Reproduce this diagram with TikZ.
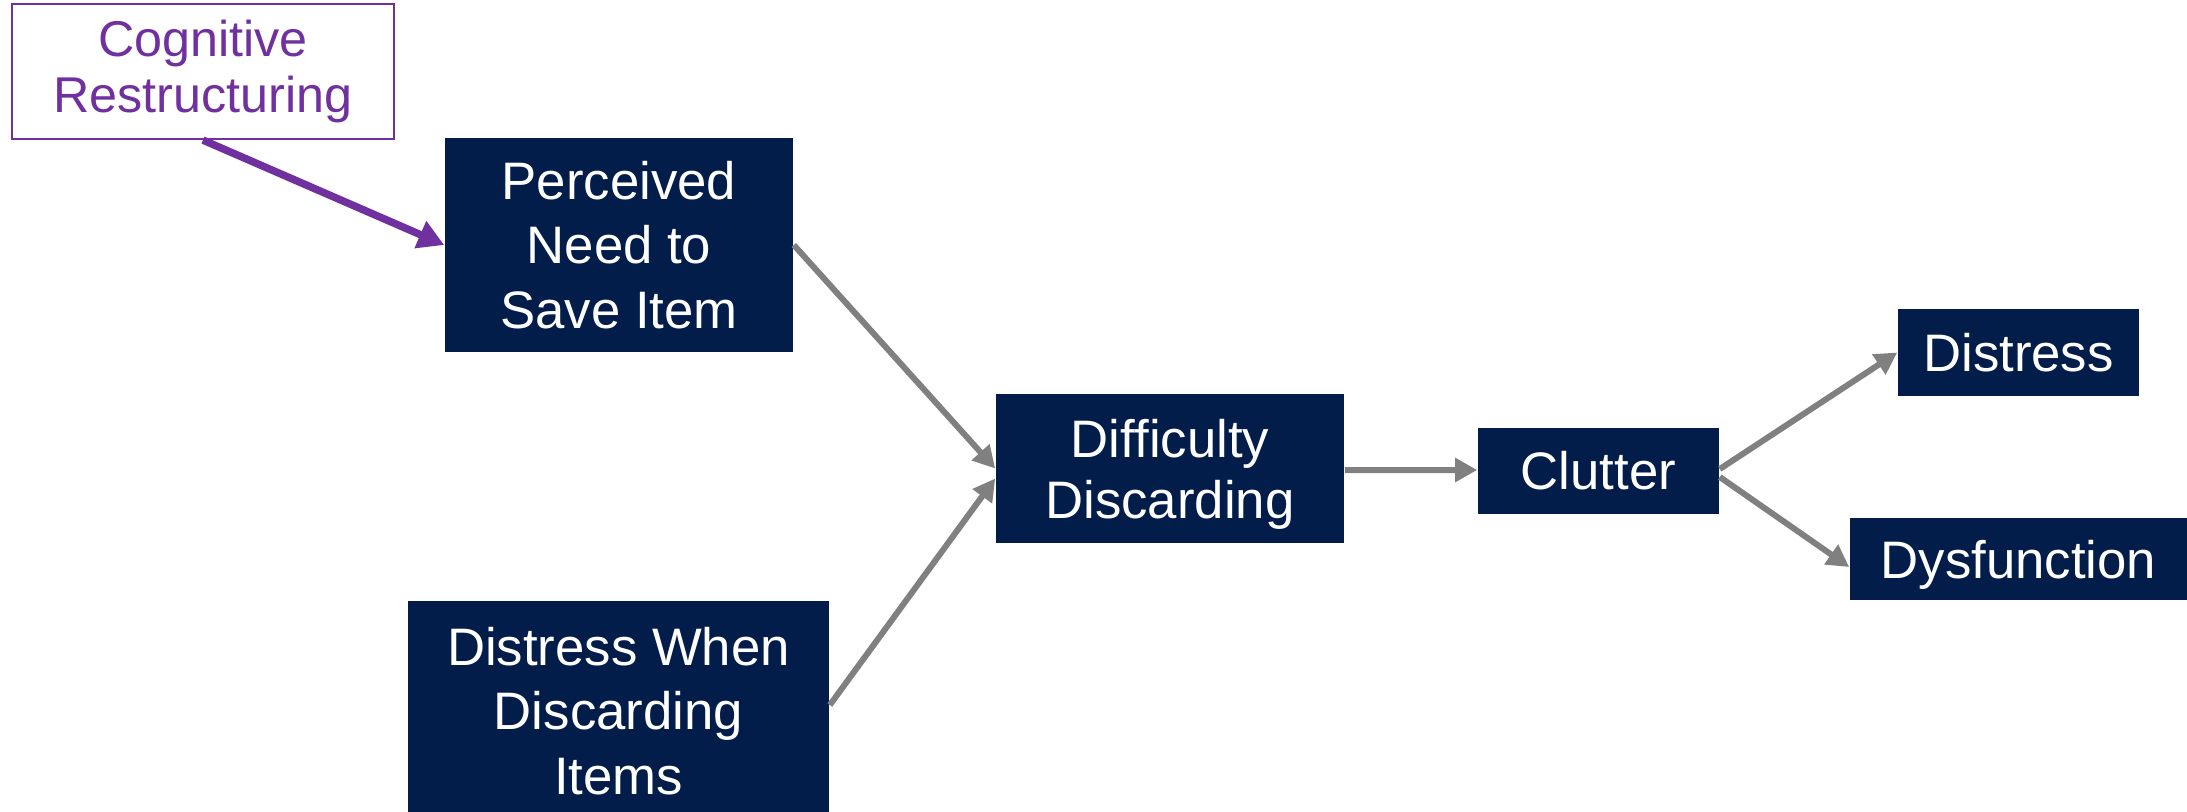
\documentclass[tikz,border=0pt]{standalone}
\usepackage{fontspec}
\setmainfont{Liberation Sans}
\usetikzlibrary{arrows.meta,calc}
\definecolor{navy}{HTML}{021D49}
\definecolor{arrowgray}{HTML}{808080}
\definecolor{plum}{HTML}{7030A0}
\begin{document}
\begin{tikzpicture}[x=0.01cm,y=-0.01cm,
  stepbox/.style={fill=navy,text=white,inner sep=0pt,align=center,
    font=\fontsize{15}{18.3}\selectfont},
  tipbox/.style={draw=plum,line width=0.6pt,text=plum,fill=white,inner sep=0pt,
    align=center,font=\fontsize{14.3}{16.2}\selectfont},
  flow/.style={draw=arrowgray,line width=0.06cm,
    -{Triangle[length=0.22cm,width=0.23cm]}},
  tipflow/.style={draw=plum,line width=0.075cm,
    -{Triangle[length=0.26cm,width=0.28cm]}}]
\useasboundingbox (0,0) rectangle (2187,812);

\node[tipbox,minimum width=3.82cm,minimum height=1.35cm] (cog) at (203,71.5)
  {Cognitive\\Restructuring};
\node[stepbox,minimum width=3.48cm,minimum height=2.14cm] (perc) at (619,245)
  {Perceived\\Need to\\Save Item};
\node[stepbox,minimum width=4.21cm,minimum height=2.2cm] (dwd) at (618.5,711)
  {Distress When\\Discarding\\Items};
\node[stepbox,minimum width=3.48cm,minimum height=1.49cm,text depth=0pt,
  font=\fontsize{15}{17.4}\selectfont] (diff) at (1170,468.5)
  {Difficulty\\Discarding};
\node[stepbox,minimum width=2.41cm,minimum height=0.86cm] (clut) at (1598.5,471)
  {Clutter};
\node[stepbox,minimum width=2.41cm,minimum height=0.87cm] (dist) at (2018.5,352.5)
  {Distress};
\node[stepbox,minimum width=3.37cm,minimum height=0.82cm,text depth=0pt] (dysf)
  at (2018.5,559) {Dysfunction};

\coordinate (diffB) at ([yshift=-0.1cm]diff.west);
\coordinate (clutA) at ([yshift=0.02cm]clut.east);
\coordinate (clutB) at ([yshift=-0.06cm]clut.east);
\coordinate (dysfA) at ([yshift=-0.08cm]dysf.west);

\draw[tipflow] (cog.south) -- (perc.west);
\draw[flow] (perc.east) -- (diff.west);
\draw[flow] ([yshift=0.06cm]dwd.east) -- (diffB);
\draw[flow] ([yshift=-0.015cm]diff.east) -- ([yshift=0.01cm]clut.west);
\draw[flow] (clutA) -- (dist.west);
\draw[flow] (clutB) -- (dysfA);
\end{tikzpicture}
\end{document}
